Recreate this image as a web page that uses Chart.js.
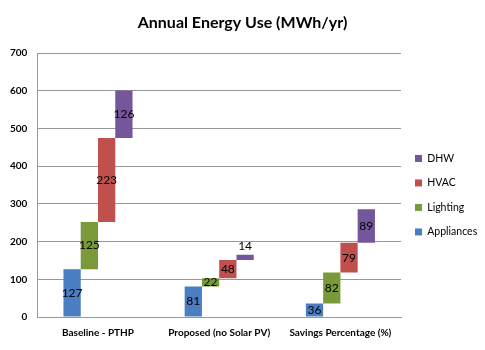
<!DOCTYPE html>
<html>
<head>
<meta charset="utf-8">
<script src="https://cdn.jsdelivr.net/npm/chart.js@4/dist/chart.umd.min.js"></script>
<style>
  html,body{margin:0;padding:0;background:#fff;}
  #wrap{width:485px;height:350px;}
</style>
</head>
<body>
<div id="wrap"><canvas id="grafica"></canvas></div>
<script>
// datos
const categorias = ['Baseline - PTHP', 'Proposed (no Solar PV)', 'Savings Percentage (%)'];
const appliances = [127, 81, 36];
const lighting   = [125, 22, 82];
const hvac       = [223, 48, 79];
const dhw        = [126, 14, 89];
const ticksY     = [0, 100, 200, 300, 400, 500, 600, 700];

const series = [
  {label:'Appliances', valores:appliances, color:'#4A7EC0'},
  {label:'Lighting',   valores:lighting,   color:'#7A9A3A'},
  {label:'HVAC',       valores:hvac,       color:'#C0504D'},
  {label:'DHW',        valores:dhw,        color:'#73579A'}
];

// barras flotantes tipo cascada: cada serie arranca donde termina la anterior
const base = categorias.map(() => 0);
const datasets = series.map(s => {
  const data = s.valores.map((v, i) => {
    const ini = base[i];
    base[i] += v;
    return [ini, ini + v];
  });
  return {
    label: s.label,
    data,
    valores: s.valores,
    backgroundColor: s.color,
    borderWidth: 0,
    barPercentage: 1,
    categoryPercentage: 0.57
  };
});

const etiquetas = {
  id: 'etiquetas',
  afterDatasetsDraw(chart) {
    const ctx = chart.ctx;
    ctx.save();
    ctx.font = '12px Lato, "Liberation Sans", sans-serif';
    ctx.fillStyle = '#000';
    ctx.textAlign = 'center';
    chart.data.datasets.forEach((ds, di) => {
      chart.getDatasetMeta(di).data.forEach((bar, i) => {
        const alto = Math.abs(bar.base - bar.y);
        const txt = String(ds.valores[i]);
        if (alto < 6) {
          ctx.textBaseline = 'bottom';
          ctx.fillText(txt, bar.x, bar.y - 3);
        } else {
          ctx.textBaseline = 'middle';
          ctx.fillText(txt, bar.x, (bar.y + bar.base) / 2);
        }
      });
    });
    ctx.restore();
  }
};

// ancho fijo de la leyenda para dejar el area del grafico como en el original
const anchoLeyenda = {
  id: 'anchoLeyenda',
  beforeLayout(chart) {
    const lg = chart.legend;
    if (lg && !lg._fijo) {
      const fit = lg.fit.bind(lg);
      lg.fit = function () { fit(); this.width = 84; };
      lg._fijo = true;
    }
  }
};

new Chart(document.getElementById('grafica'), {
  type: 'bar',
  data: { labels: categorias, datasets },
  plugins: [etiquetas, anchoLeyenda],
  options: {
    responsive: true,
    maintainAspectRatio: false,
    animation: false,
    layout: { padding: { top: 9, right: 0, left: 0, bottom: 9 } },
    plugins: {
      title: {
        display: true,
        text: 'Annual Energy Use (MWh/yr)',
        color: '#000',
        font: { family: 'Lato, "Liberation Sans", sans-serif', size: 16, weight: 'bold' },
        padding: { top: 4, bottom: 21 }
      },
      legend: {
        position: 'right',
        reverse: true,
        title: { display: true, text: ' ', padding: { top: 13, bottom: 13 } },
        labels: {
          color: '#000',
          boxWidth: 7,
          boxHeight: 7,
          padding: 14,
          font: { family: 'Lato, "Liberation Sans", sans-serif', size: 10.5 }
        }
      },
      tooltip: { enabled: false }
    },
    scales: {
      x: {
        grid: { display: false },
        border: { color: '#999' },
        ticks: {
          color: '#000',
          padding: 2,
          font: { family: 'Lato, "Liberation Sans", sans-serif', size: 10, weight: 'bold' },
          maxRotation: 0
        }
      },
      y: {
        min: 0,
        max: 700,
        afterBuildTicks: ax => { ax.ticks = ticksY.map(v => ({ value: v })); },
        grid: { color: '#999', drawTicks: false },
        border: { color: '#999' },
        ticks: {
          color: '#000',
          padding: 10,
          font: { family: 'Lato, "Liberation Sans", sans-serif', size: 10, weight: 'bold' }
        }
      }
    }
  }
});
</script>
</body>
</html>
